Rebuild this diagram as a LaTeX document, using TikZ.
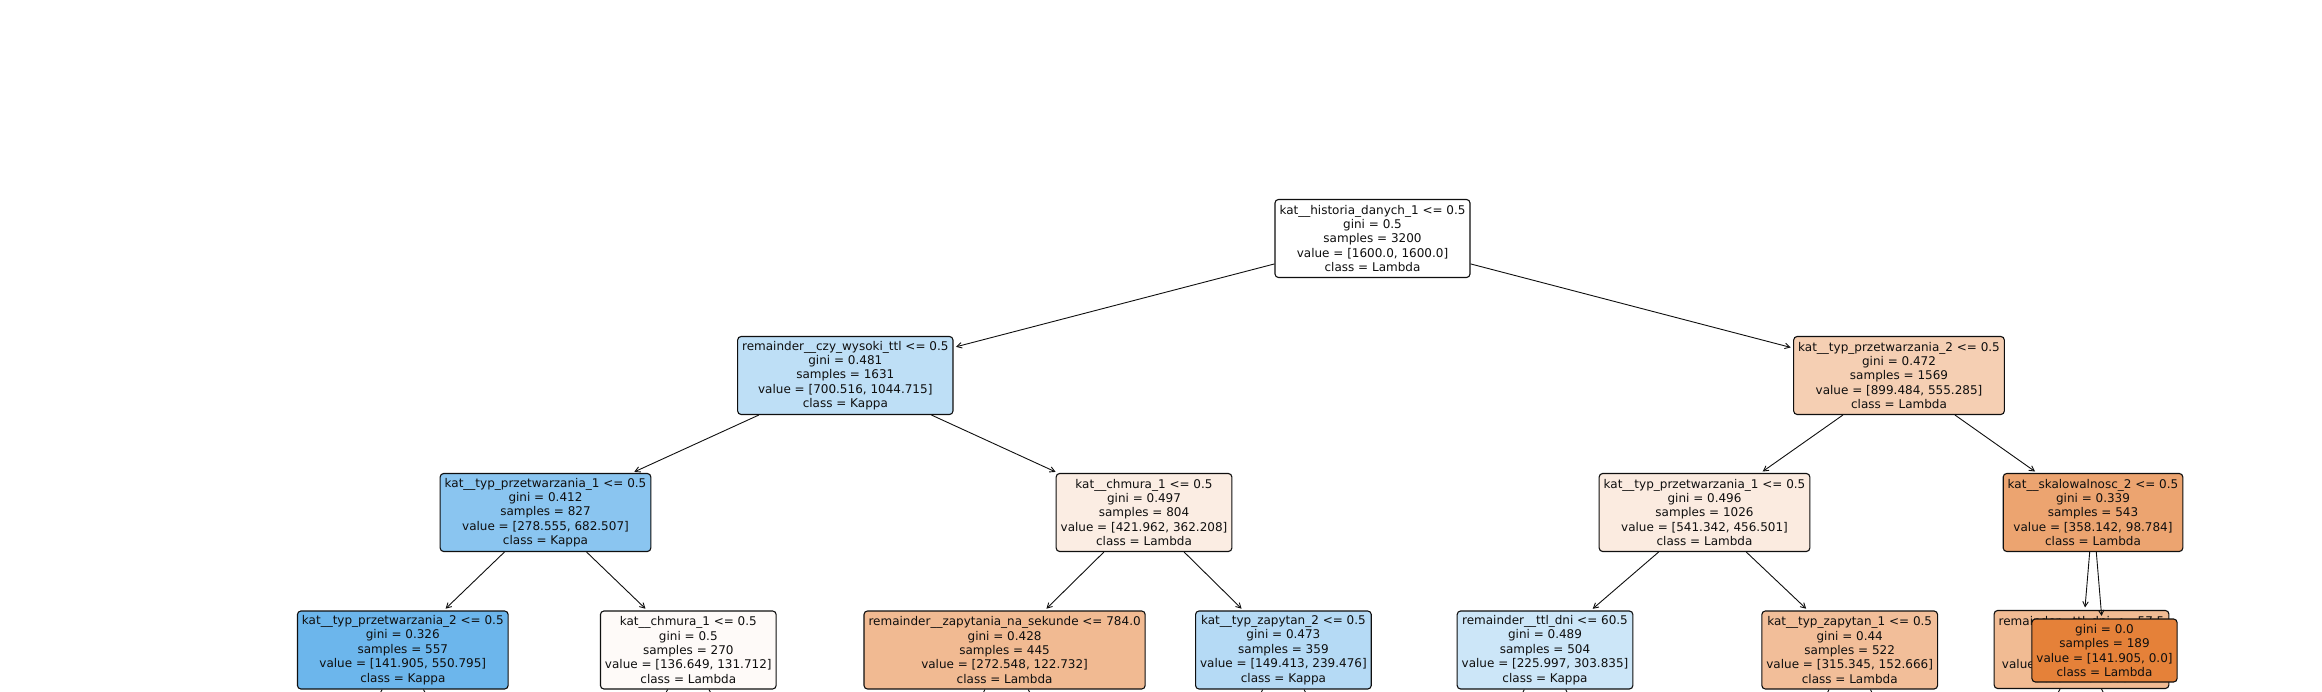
\documentclass[tikz,border=0pt]{standalone}
\usepackage{fontspec}
\setmainfont{DejaVu Sans}
\usetikzlibrary{arrows.meta}
\definecolor{ink}{RGB}{15,15,15}
\definecolor{cRoot}{RGB}{255,255,255}
\definecolor{cLL}{RGB}{190,223,246}
\definecolor{cLR}{RGB}{245,207,179}
\definecolor{cA}{RGB}{138,197,240}
\definecolor{cB}{RGB}{251,237,227}
\definecolor{cC}{RGB}{251,235,224}
\definecolor{cD}{RGB}{236,164,112}
\definecolor{cAa}{RGB}{108,182,236}
\definecolor{cAb}{RGB}{254,250,248}
\definecolor{cBa}{RGB}{241,186,146}
\definecolor{cBb}{RGB}{181,218,245}
\definecolor{cCa}{RGB}{204,230,248}
\definecolor{cCb}{RGB}{242,190,153}
\definecolor{cDa}{RGB}{241,187,147}
\definecolor{cDb}{RGB}{229,129,57}
\tikzset{
  tn/.style={draw=ink, rounded corners=3.5pt, line width=1.1pt, align=center,
    inner xsep=4.5pt, inner ysep=0pt, minimum height=78pt,
    font=\fontsize{12}{14.35}\selectfont, text=ink},
  leafn/.style={tn, minimum height=63pt},
  edge/.style={draw=ink, line width=0.9pt, -{Straight Barb[length=5pt,width=5.5pt]},
    shorten >=2.5pt}
}
\begin{document}
\begin{tikzpicture}[x=1pt,y=-1pt]
\useasboundingbox (0,0) rectangle (2322,692);
\clip (0,0) rectangle (2322,692);
% level 0
\node[tn, fill=cRoot] (root) at (1372.5,238.5) {kat\_\_historia\_danych\_1 <= 0.5\\gini = 0.5\\samples = 3200\\value = [1600.0, 1600.0]\\class = Lambda};
% level 1
\node[tn, fill=cLL] (LL) at (845.3,375.5) {remainder\_\_czy\_wysoki\_ttl <= 0.5\\gini = 0.481\\samples = 1631\\value = [700.516, 1044.715]\\class = Kappa};
\node[tn, fill=cLR] (LR) at (1899,375.5) {kat\_\_typ\_przetwarzania\_2 <= 0.5\\gini = 0.472\\samples = 1569\\value = [899.484, 555.285]\\class = Lambda};
% level 2
\node[tn, fill=cA] (A) at (545.5,512.5) {kat\_\_typ\_przetwarzania\_1 <= 0.5\\gini = 0.412\\samples = 827\\value = [278.555, 682.507]\\class = Kappa};
\node[tn, fill=cB] (B) at (1144,512.5) {kat\_\_chmura\_1 <= 0.5\\gini = 0.497\\samples = 804\\value = [421.962, 362.208]\\class = Lambda};
\node[tn, fill=cC] (C) at (1704.5,512.5) {kat\_\_typ\_przetwarzania\_1 <= 0.5\\gini = 0.496\\samples = 1026\\value = [541.342, 456.501]\\class = Lambda};
\node[tn, fill=cD] (D) at (2093,512.5) {kat\_\_skalowalnosc\_2 <= 0.5\\gini = 0.339\\samples = 543\\value = [358.142, 98.784]\\class = Lambda};
% level 3
\node[tn, fill=cAa] (Aa) at (402.8,650) {kat\_\_typ\_przetwarzania\_2 <= 0.5\\gini = 0.326\\samples = 557\\value = [141.905, 550.795]\\class = Kappa};
\node[tn, fill=cAb] (Ab) at (688.3,650) {kat\_\_chmura\_1 <= 0.5\\gini = 0.5\\samples = 270\\value = [136.649, 131.712]\\class = Lambda};
\node[tn, fill=cBa] (Ba) at (1004.6,650) {remainder\_\_zapytania\_na\_sekunde <= 784.0\\gini = 0.428\\samples = 445\\value = [272.548, 122.732]\\class = Lambda};
\node[tn, fill=cBb] (Bb) at (1283.4,650) {kat\_\_typ\_zapytan\_2 <= 0.5\\gini = 0.473\\samples = 359\\value = [149.413, 239.476]\\class = Kappa};
\node[tn, fill=cCa] (Ca) at (1545,650) {remainder\_\_ttl\_dni <= 60.5\\gini = 0.489\\samples = 504\\value = [225.997, 303.835]\\class = Kappa};
\node[tn, fill=cCb] (Cb) at (1849.7,650) {kat\_\_typ\_zapytan\_1 <= 0.5\\gini = 0.44\\samples = 522\\value = [315.345, 152.666]\\class = Lambda};
\node[tn, fill=cDa] (Da) at (2081.5,649.5) {remainder\_\_ttl\_dni <= 57.5\\gini = 0.427\\samples = 354\\value = [216.237, 98.784]\\class = Lambda};
% off-picture children of level 3
\coordinate (Aa1) at (330.8,787.5);
\coordinate (Aa2) at (474.8,787.5);
\coordinate (Ab1) at (616.3,787.5);
\coordinate (Ab2) at (760.3,787.5);
\coordinate (Ba1) at (936,787.5);
\coordinate (Ba2) at (1086.5,787.5);
\coordinate (Bb1) at (1211.4,787.5);
\coordinate (Bb2) at (1355.4,787.5);
\coordinate (Ca1) at (1473,787.5);
\coordinate (Ca2) at (1617,787.5);
\coordinate (Cb1) at (1777.7,787.5);
\coordinate (Cb2) at (1921.7,787.5);
\coordinate (Da1) at (2006.5,787.5);
\coordinate (Da2) at (2151.5,787.5);
% edges
\draw[edge] (root) -- (LL);
\draw[edge] (root) -- (LR);
\draw[edge] (LL) -- (A);
\draw[edge] (LL) -- (B);
\draw[edge] (LR) -- (C);
\draw[edge] (LR) -- (D);
\draw[edge] (A) -- (Aa);
\draw[edge] (A) -- (Ab);
\draw[edge] (B) -- (Ba);
\draw[edge] (B) -- (Bb);
\draw[edge] (C) -- (Ca);
\draw[edge] (C) -- (Cb);
\draw[edge] (D) -- (Da);
\foreach \p in {Aa,Ab,Ba,Bb,Ca,Cb,Da}{
  \draw[edge] (\p) -- (\p1);
  \draw[edge] (\p) -- (\p2);
}
% leaf drawn over its sibling
\node[leafn, fill=cDb] (Db) at (2104.5,650.5) {gini = 0.0\\samples = 189\\value = [141.905, 0.0]\\class = Lambda};
\draw[edge] (D) -- (Db);
\end{tikzpicture}
\end{document}
